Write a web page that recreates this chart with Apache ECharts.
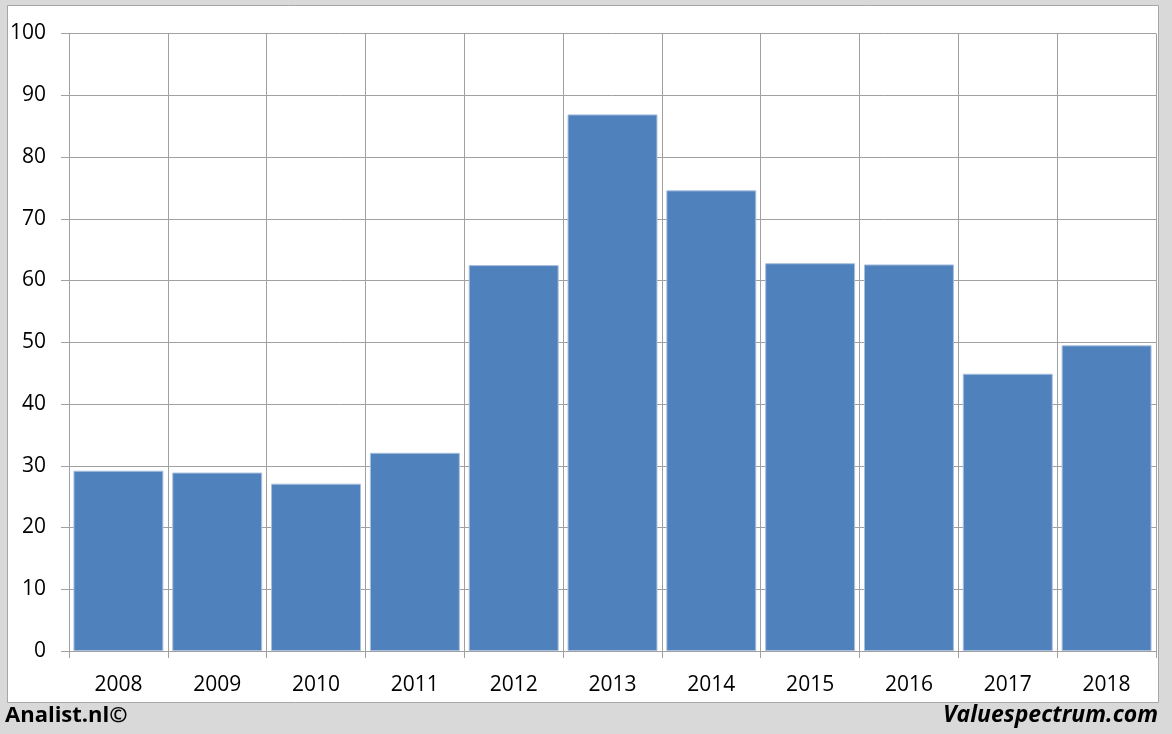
<!DOCTYPE html>
<html><head><meta charset="utf-8">
<script src="https://cdn.jsdelivr.net/npm/echarts@6/dist/echarts.min.js"></script>
<style>html,body{margin:0;padding:0;background:#d9d9d9;}#c{width:1172px;height:734px;}</style>
</head><body><div id="c"></div>
<script>
const years = ['2008','2009','2010','2011','2012','2013','2014','2015','2016','2017','2018'];
const values = [29.2, 28.9, 27.1, 32.1, 62.5, 86.9, 74.6, 62.8, 62.6, 44.9, 49.5];
const yTicks = {min: 0, max: 100, interval: 10};
const footerLeft = 'Analist.nl©';
const footerRight = 'Valuespectrum.com';

const chart = echarts.init(document.getElementById('c'));
const font = '"Open Sans", "Noto Sans", sans-serif';
chart.setOption({
  backgroundColor: '#d9d9d9',
  animation: false,
  graphic: [
    {type:'rect', z:-10, shape:{x:7.5,y:5.5,width:1151,height:697}, style:{fill:'#ffffff', stroke:'#a6a6a6', lineWidth:1}},
    {type:'text', left:5, top:705, style:{text:footerLeft, font:'bold 22px ' + font, fill:'#000'}},
    {type:'text', right:14, top:704, style:{text:footerRight, font:'italic bold 23px ' + font, fill:'#000'}}
  ],
  grid: {left: 69, right: 16, top: 33.5, bottom: 83},
  xAxis: {
    type: 'category', data: years,
    axisLine: {lineStyle:{color:'#a0a0a0'}},
    axisTick: {show:true, length:7, lineStyle:{color:'#a0a0a0'}, alignWithLabel:false},
    splitLine: {show:true, lineStyle:{color:'#a0a0a0'}},
    axisLabel: {color:'#000', fontSize:21, fontFamily:font, margin:24}
  },
  yAxis: {
    type: 'value', min: yTicks.min, max: yTicks.max, interval: yTicks.interval,
    axisLine: {show:true, lineStyle:{color:'#a0a0a0'}},
    axisTick: {show:true, length:8, lineStyle:{color:'#a0a0a0'}},
    splitLine: {lineStyle:{color:'#a0a0a0'}},
    axisLabel: {color:'#000', fontSize:21, fontFamily:font, margin:23}
  },
  series: [{
    type: 'bar', data: values, barCategoryGap: '9%',
    itemStyle: {color:'#4f81bd', borderColor:'#a9bfdd', borderWidth:1}
  }]
});
</script></body></html>
